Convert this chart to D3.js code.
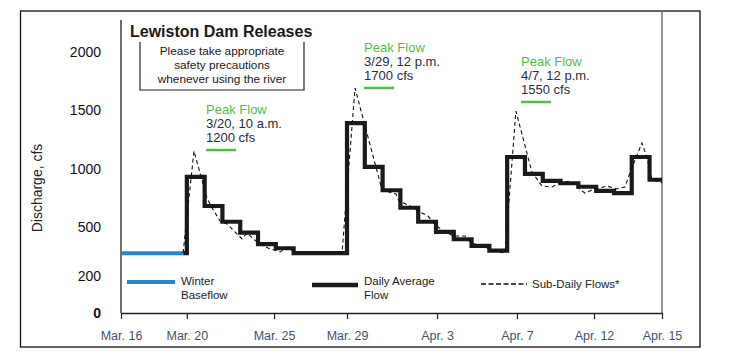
<!DOCTYPE html>
<html><head><meta charset="utf-8">
<script src="https://cdn.jsdelivr.net/npm/d3@7"></script>
<style>
body{margin:0;background:#fff}
svg{display:block;font-family:"Liberation Sans",Arial,sans-serif}
</style>
</head><body>
<svg id="c" width="732" height="364"></svg>
<script>
// ---------- data ----------
const yTickValues = [0, 200, 500, 1000, 1500, 2000];
const xTickDays   = [16.3, 20.0, 24.9, 29.0, 34.06, 38.55, 42.88, 46.7]; // day-of-March numbering (Apr 1 = 32)
const xTickLabels = ["Mar. 16","Mar. 20","Mar. 25","Mar. 29","Apr. 3","Apr. 7","Apr. 12","Apr. 15"];

const baseflowDays = [16.3, 19.8];
const baseflowCfs  = [340, 340];

const dailyDays = [19.8, 20,21,22,23,24,25,26,27,28,29,30,31,32,33,34,35,36,37,38,39,40,41,42,43,44,45,46, 46.7];
const dailyCfs  = [340, 930,680,545,465,395,370,340,340,340,1390,1015,815,665,545,470,425,385,355,1100,955,895,875,845,810,790,1100,905, 890];

const subDays = [19.79,20.40,21.13,21.42,21.87,22.26,23.10,23.38,24.00,24.56,25.24,25.69,26.08,28.72,
                 29.45,30.97,31.75,31.92,32.54,32.99,33.55,34.0,34.56,34.96,35.63,35.97,36.87,37.48,37.88,
                 38.49,39.39,39.96,40.52,40.97,41.53,41.92,42.37,42.76,43.61,44.17,44.62,44.96,45.57,45.85,46.13,46.7];
const subCfs  = [341,1151,749,663,551,526,427,463,402,371,347,378,341,341,
                 1691,817,783,723,680,637,594,509,469,445,445,402,371,347,341,
                 1494,971,851,843,877,894,843,791,817,851,826,843,989,1220,1100,903,880];

const peakDays    = [21.08, 29.96, 38.78];
const peakTextCfs = [1511, 2043, 1923];
const peakWhen    = ["3/20, 10 a.m.", "3/29, 12 p.m.", "4/7, 12 p.m."];
const peakAmount  = ["1200 cfs", "1700 cfs", "1550 cfs"];

const noticeLines = ["Please take appropriate", "safety precautions", "whenever using the river"];

// ---------- layout ----------
const svg = d3.select("#c");
const L = 121, R = 662, T = 20, B = 313;

const x = d3.scaleLinear().domain([16.3, 46.7]).range([L, R]);
const y = d3.scaleLinear().domain([0, 200, 500, 2000]).range([B, B - 37, B - 86, B - 261]);

// outer frame
svg.append("rect").attr("x", 20.5).attr("y", 11).attr("width", 679.5).attr("height", 336)
   .attr("fill", "none").attr("stroke", "#111").attr("stroke-width", 1.3);

// right plot border (gray)
svg.append("line").attr("x1", R).attr("x2", R).attr("y1", 11).attr("y2", B)
   .attr("stroke", "#7a7a7a").attr("stroke-width", 1.6);

// y axis line
svg.append("line").attr("x1", L).attr("x2", L).attr("y1", T).attr("y2", B)
   .attr("stroke", "#222").attr("stroke-width", 1.3);

// x axis
const xAxis = d3.axisBottom(x).tickValues(xTickDays)
  .tickFormat((d, i) => xTickLabels[i]).tickSize(6).tickSizeOuter(0).tickPadding(12);
const gx = svg.append("g").attr("transform", `translate(0,${B})`).call(xAxis);
gx.select(".domain").attr("stroke", "#222").attr("stroke-width", 1.5);
gx.selectAll(".tick line").attr("stroke", "#222").attr("stroke-width", 1.2);
gx.selectAll(".tick text").attr("fill", "#46526c").attr("font-size", 12.5);

// y tick labels
svg.append("g").selectAll("text").data(yTickValues).join("text")
  .attr("x", 101).attr("y", d => y(d)).attr("dy", "0.35em")
  .attr("text-anchor", "end").attr("font-size", 14).attr("fill", "#111")
  .attr("font-weight", d => d === 0 ? "bold" : "normal")
  .text(d => d);

// y title
svg.append("text").attr("transform", "translate(42,188) rotate(-90)")
  .attr("text-anchor", "middle").attr("font-size", 14).attr("fill", "#222")
  .text("Discharge, cfs");

// title
svg.append("text").attr("x", 130).attr("y", 37).attr("font-size", 16)
  .attr("font-weight", "bold").attr("fill", "#1a1a1a").text("Lewiston Dam Releases");

// notice box (three sides)
svg.append("path").attr("d", "M140,42V90H304V42").attr("fill", "none")
  .attr("stroke", "#222").attr("stroke-width", 1.2);
svg.append("g").selectAll("text").data(noticeLines).join("text")
  .attr("x", 222).attr("y", (d, i) => 51 + i * 14).attr("dy", "0.35em")
  .attr("text-anchor", "middle").attr("font-size", 11.8).attr("fill", "#1a1a1a")
  .text(d => d);

// clip
svg.append("clipPath").attr("id", "clip").append("rect")
  .attr("x", L).attr("y", 0).attr("width", R - L).attr("height", B);

const plot = svg.append("g").attr("clip-path", "url(#clip)");

// baseflow
plot.append("path")
  .attr("d", d3.line().x((d, i) => x(baseflowDays[i])).y(d => y(d))(baseflowCfs))
  .attr("fill", "none").attr("stroke", "#2a86c6").attr("stroke-width", 4);

// daily average (step)
plot.append("path")
  .attr("d", d3.line().curve(d3.curveStepAfter).x((d, i) => x(dailyDays[i])).y(d => y(d))(dailyCfs))
  .attr("fill", "none").attr("stroke", "#1a1a1a").attr("stroke-width", 4.2)
  .attr("stroke-linejoin", "miter");

// sub-daily dashed
plot.append("path")
  .attr("d", d3.line().x((d, i) => x(subDays[i])).y(d => y(d))(subCfs))
  .attr("fill", "none").attr("stroke", "#111").attr("stroke-width", 1.1)
  .attr("stroke-dasharray", "4,3");

// peak annotations
peakDays.forEach((d, i) => {
  const px = x(d), py = y(peakTextCfs[i]);
  const g = svg.append("g");
  g.append("text").attr("x", px).attr("y", py).attr("dy", "0.35em")
    .attr("font-size", 13).attr("fill", "#5cb94f").text("Peak Flow");
  g.append("text").attr("x", px).attr("y", py + 14).attr("dy", "0.35em")
    .attr("font-size", 13).attr("fill", "#2a2d3d").text(peakWhen[i]);
  g.append("text").attr("x", px).attr("y", py + 28).attr("dy", "0.35em")
    .attr("font-size", 13).attr("fill", "#2a2d3d").text(peakAmount[i]);
  g.append("line").attr("x1", px).attr("x2", px + 30).attr("y1", py + 41).attr("y2", py + 41)
    .attr("stroke", "#5cb94f").attr("stroke-width", 2.5);
});

// legend
const lg = svg.append("g").attr("font-size", 11.5).attr("fill", "#222");
lg.append("line").attr("x1", 127).attr("x2", 175).attr("y1", 282).attr("y2", 282)
  .attr("stroke", "#2a86c6").attr("stroke-width", 4);
lg.append("text").attr("x", 181).attr("y", 281).attr("dy", "0.35em").text("Winter");
lg.append("text").attr("x", 181).attr("y", 294.5).attr("dy", "0.35em").text("Baseflow");
lg.append("line").attr("x1", 312).attr("x2", 358).attr("y1", 285).attr("y2", 285)
  .attr("stroke", "#1a1a1a").attr("stroke-width", 4.5);
lg.append("text").attr("x", 364).attr("y", 281).attr("dy", "0.35em").text("Daily Average");
lg.append("text").attr("x", 364).attr("y", 294.5).attr("dy", "0.35em").text("Flow");
lg.append("line").attr("x1", 481).attr("x2", 527).attr("y1", 284).attr("y2", 284)
  .attr("stroke", "#111").attr("stroke-width", 1.4).attr("stroke-dasharray", "5,2.5");
lg.append("text").attr("x", 532).attr("y", 284).attr("dy", "0.35em").text("Sub-Daily Flows*");
</script>
</body></html>
